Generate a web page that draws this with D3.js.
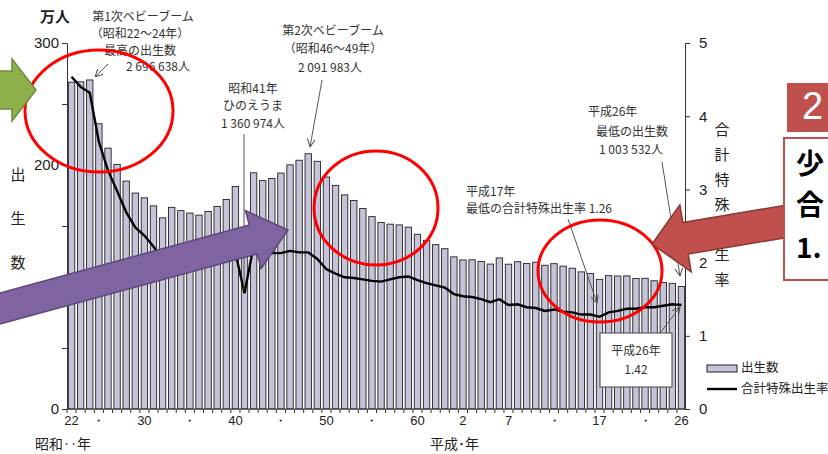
<!DOCTYPE html>
<html>
<head>
<meta charset="utf-8">
<script src="https://cdn.jsdelivr.net/npm/d3@7"></script>
<style>
  body { margin: 0; background: #fff; }
  svg { font-family: "Noto Sans CJK JP", "Noto Sans", sans-serif; }
</style>
</head>
<body>
<div id="chart"></div>
<script>
// 年次（昭和22年〜平成26年）
const years = [1947, 1948, 1949,
  1950, 1951, 1952, 1953, 1954, 1955, 1956, 1957, 1958, 1959,
  1960, 1961, 1962, 1963, 1964, 1965, 1966, 1967, 1968, 1969,
  1970, 1971, 1972, 1973, 1974, 1975, 1976, 1977, 1978, 1979,
  1980, 1981, 1982, 1983, 1984, 1985, 1986, 1987, 1988, 1989,
  1990, 1991, 1992, 1993, 1994, 1995, 1996, 1997, 1998, 1999,
  2000, 2001, 2002, 2003, 2004, 2005, 2006, 2007, 2008, 2009,
  2010, 2011, 2012, 2013, 2014];
// 出生数（万人）
const births = [267.9, 268.2, 269.7,
  233.8, 213.8, 200.5, 186.8, 177.0, 173.1, 166.5, 156.7, 165.3, 162.6,
  160.6, 158.9, 161.9, 166.0, 171.7, 182.4, 136.1, 193.6, 187.2, 189.0,
  193.4, 200.1, 203.9, 209.2, 203.0, 190.1, 183.3, 175.5, 170.9, 164.3,
  157.7, 152.9, 151.5, 150.9, 149.0, 143.2, 138.3, 134.7, 131.4, 124.7,
  122.2, 122.3, 120.9, 118.8, 123.8, 118.7, 120.7, 119.2, 120.3, 117.8,
  119.1, 117.1, 115.4, 112.4, 111.1, 106.3, 109.3, 109.0, 109.1, 107.0,
  107.1, 105.1, 103.7, 103.0, 100.4];
// 合計特殊出生率
const tfr = [4.54, 4.40, 4.32,
  3.65, 3.26, 2.98, 2.69, 2.48, 2.37, 2.22, 2.04, 2.11, 2.04,
  2.00, 1.96, 1.98, 2.00, 2.05, 2.14, 1.58, 2.23, 2.13, 2.13,
  2.13, 2.16, 2.14, 2.14, 2.05, 1.91, 1.85, 1.80, 1.79, 1.77,
  1.75, 1.74, 1.77, 1.80, 1.81, 1.76, 1.72, 1.69, 1.66, 1.57,
  1.54, 1.53, 1.50, 1.46, 1.50, 1.42, 1.43, 1.39, 1.38, 1.34,
  1.36, 1.33, 1.32, 1.29, 1.29, 1.26, 1.32, 1.34, 1.37, 1.37,
  1.39, 1.39, 1.41, 1.43, 1.42];
// x軸ラベル
const xLabelYears = [1947, 1950, 1955, 1960, 1965, 1970, 1975, 1980, 1985, 1990, 1995, 2000, 2005, 2010, 2014];
const xLabels = ["22", "・", "30", "・", "40", "・", "50", "・", "60", "2", "7", "・", "17", "・", "26"];
const leftTicks = [0, 50, 100, 150, 200, 250, 300];
const rightTicks = [0, 1, 2, 3, 4, 5];

const width = 828, height = 454;
const svg = d3.select("#chart").append("svg")
  .attr("width", width).attr("height", height);

const x = d3.scaleBand().domain(years).range([67, 686]).paddingInner(0.3).paddingOuter(0.15);
const yL = d3.scaleLinear().domain([0, 300]).range([409, 43]);
const yR = d3.scaleLinear().domain([0, 5]).range([409, 43]);

// 棒グラフ
const rows = years.map((yr, i) => ({ yr, b: births[i], t: tfr[i] }));
svg.append("g").selectAll("rect").data(rows).enter().append("rect")
  .attr("x", d => x(d.yr))
  .attr("y", d => yL(d.b))
  .attr("width", x.bandwidth())
  .attr("height", d => yL(0) - yL(d.b))
  .attr("fill", "#c6c2d9")
  .attr("stroke", "#222")
  .attr("stroke-width", 0.9);

// 左軸
const axL = svg.append("g").attr("transform", "translate(67,0)")
  .call(d3.axisLeft(yL).tickValues(leftTicks).tickSize(5).tickSizeOuter(0)
    .tickFormat(d => d % 100 === 0 ? d : ""));
axL.selectAll("text").attr("font-size", 15).attr("fill", "#222").attr("font-family", "Liberation Sans, Arial, sans-serif");
axL.selectAll("line,path").attr("stroke", "#333");

// 右軸
const axR = svg.append("g").attr("transform", "translate(685,0)")
  .call(d3.axisRight(yR).tickValues(rightTicks).tickSize(5).tickSizeOuter(0).tickPadding(9)
    .tickFormat(d3.format("d")));
axR.selectAll("text").attr("font-size", 15).attr("fill", "#222").attr("font-family", "Liberation Sans, Arial, sans-serif");
axR.selectAll("line,path").attr("stroke", "#333");

// x軸
svg.append("line").attr("x1", 67).attr("x2", 686).attr("y1", 409).attr("y2", 409).attr("stroke", "#333");
svg.append("g").selectAll("line").data(years).enter().append("line")
  .attr("x1", d => x(d) - (x.step() - x.bandwidth()) / 2)
  .attr("x2", d => x(d) - (x.step() - x.bandwidth()) / 2)
  .attr("y1", 409).attr("y2", 413).attr("stroke", "#333");
const axX = svg.append("g").attr("transform", "translate(0,412)")
  .call(d3.axisBottom(x).tickValues(xLabelYears).tickSize(0).tickPadding(4)
    .tickFormat(d => xLabels[xLabelYears.indexOf(d)]));
axX.select(".domain").remove();
axX.selectAll("text").attr("font-size", 13).attr("fill", "#222").attr("font-family", "Liberation Sans, Arial, sans-serif");

// 合計特殊出生率の線
svg.append("path").datum(rows)
  .attr("d", d3.line().x(d => x(d.yr) + x.bandwidth() / 2).y(d => yR(d.t)))
  .attr("fill", "none").attr("stroke", "#000").attr("stroke-width", 2.4);

// テキスト
function txt(s, tx, ty, size, anchor, color, weight) {
  return svg.append("text").attr("x", tx).attr("y", ty).text(s)
    .attr("font-size", size).attr("text-anchor", anchor || "start")
    .attr("fill", color || "#333").attr("font-weight", weight || "normal")
    .attr("dominant-baseline", "middle");
}
txt("万人", 40, 18, 15, "start", "#222", "bold");
["出", "生", "数"].forEach((c, i) => txt(c, 18, 176 + i * 44, 15, "middle", "#222"));
["合", "計", "特", "殊", "出", "生", "率"].forEach((c, i) => txt(c, 722, 131 + i * 25, 15, "middle", "#222"));
txt("昭和‥年", 35, 445, 14, "start", "#222");
txt("平成･年", 430, 445, 14, "start", "#222");

// 注記
txt("第1次ベビーブーム", 143, 18, 12, "middle");
txt("（昭和22～24年）", 140, 35, 12, "middle");
txt("最高の出生数", 140, 52, 12, "middle");
txt("2 696 638人", 158, 68, 12, "middle");
txt("第2次ベビーブーム", 333, 32, 12, "middle");
txt("（昭和46～49年）", 333, 50, 12, "middle");
txt("2 091 983人", 330, 69, 12, "middle");
txt("昭和41年", 253, 90, 12, "middle");
txt("ひのえうま", 253, 107, 12, "middle");
txt("1 360 974人", 253, 125, 12, "middle");
txt("平成26年", 588, 113, 12, "start");
txt("最低の出生数", 632, 133, 12, "middle");
txt("1 003 532人", 631, 151, 12, "middle");
txt("平成17年", 466, 193, 12, "start");
txt("最低の合計特殊出生率 1.26", 466, 210, 12, "start");

// 矢印付き引出線
svg.append("defs").append("marker").attr("id", "ah")
  .attr("viewBox", "0 0 10 10").attr("refX", 10).attr("refY", 5)
  .attr("markerWidth", 8).attr("markerHeight", 8).attr("orient", "auto")
  .append("path").attr("d", "M0,0 L10,5 L0,10").attr("fill", "none").attr("stroke", "#444").attr("stroke-width", 1.2);
function lead(x1, y1, x2, y2, arrow) {
  const l = svg.append("line").attr("x1", x1).attr("y1", y1).attr("x2", x2).attr("y2", y2)
    .attr("stroke", "#555").attr("stroke-width", 1);
  if (arrow) l.attr("marker-end", "url(#ah)");
}
lead(108, 64, 95, 77, true);
lead(322, 80, 310, 147, true);
lead(244, 134, 244, 290, false);
lead(662, 162, 680, 276, true);
lead(568, 219, 597, 303, true);
lead(660, 333, 680, 307, true);

// 平成26年 1.42 の枠
svg.append("rect").attr("x", 600).attr("y", 333).attr("width", 72).attr("height", 54)
  .attr("fill", "#fff").attr("stroke", "#444").attr("stroke-width", 1);
txt("平成26年", 636, 352, 12, "middle");
txt("1.42", 636, 371, 12, "middle");

// 凡例
svg.append("rect").attr("x", 707).attr("y", 365).attr("width", 30).attr("height", 7)
  .attr("fill", "#c6c2d9").attr("stroke", "#222");
txt("出生数", 741, 369, 12.5, "start", "#222");
svg.append("line").attr("x1", 707).attr("x2", 737).attr("y1", 389).attr("y2", 389)
  .attr("stroke", "#000").attr("stroke-width", 2.4);
txt("合計特殊出生率", 741, 390, 12.5, "start", "#222");

// 赤い円
const circles = [[99, 111, 74, 61], [376, 208, 62, 57], [600, 271, 62, 51]];
svg.append("g").selectAll("ellipse").data(circles).enter().append("ellipse")
  .attr("cx", d => d[0]).attr("cy", d => d[1]).attr("rx", d => d[2]).attr("ry", d => d[3])
  .attr("fill", "none").attr("stroke", "#f00").attr("stroke-width", 3);

// ブロック矢印
function blockArrow(x1, y1, x2, y2, shaft, head, headLen, fill, stroke) {
  const dx = x2 - x1, dy = y2 - y1, len = Math.hypot(dx, dy);
  const ux = dx / len, uy = dy / len, nx = -uy, ny = ux;
  const bx = x2 - ux * headLen, by = y2 - uy * headLen;
  const p = [
    [x1 + nx * shaft / 2, y1 + ny * shaft / 2],
    [bx + nx * shaft / 2, by + ny * shaft / 2],
    [bx + nx * head / 2, by + ny * head / 2],
    [x2, y2],
    [bx - nx * head / 2, by - ny * head / 2],
    [bx - nx * shaft / 2, by - ny * shaft / 2],
    [x1 - nx * shaft / 2, y1 - ny * shaft / 2]
  ];
  svg.append("path").attr("d", "M" + p.join("L") + "Z")
    .attr("fill", fill).attr("stroke", stroke).attr("stroke-width", 1.5);
}
blockArrow(-20, 90, 36, 90, 38, 62, 24, "#8db04b", "#6f8b3a");
blockArrow(-20, 314, 288, 230, 30, 60, 36, "#8064a2", "#5d4778");
blockArrow(800, 219, 652, 244, 32, 68, 34, "#c0504d", "#8c3735");

// 右側のボックス
svg.append("rect").attr("x", 787).attr("y", 83).attr("width", 50).attr("height", 49).attr("fill", "#c0504d");
svg.append("text").attr("x", 802).attr("y", 109).text("2").attr("font-size", 38)
  .attr("fill", "#fff").attr("dominant-baseline", "middle").attr("font-family", "Liberation Sans, Arial, sans-serif");
svg.append("rect").attr("x", 784).attr("y", 138).attr("width", 60).attr("height", 142)
  .attr("fill", "#fff").attr("stroke", "#c0504d").attr("stroke-width", 2);
txt("少", 796, 166, 28, "start", "#000", "bold");
txt("合", 796, 207, 28, "start", "#000", "bold");
txt("1.", 796, 250, 28, "start", "#000", "bold");
</script>
</body>
</html>
